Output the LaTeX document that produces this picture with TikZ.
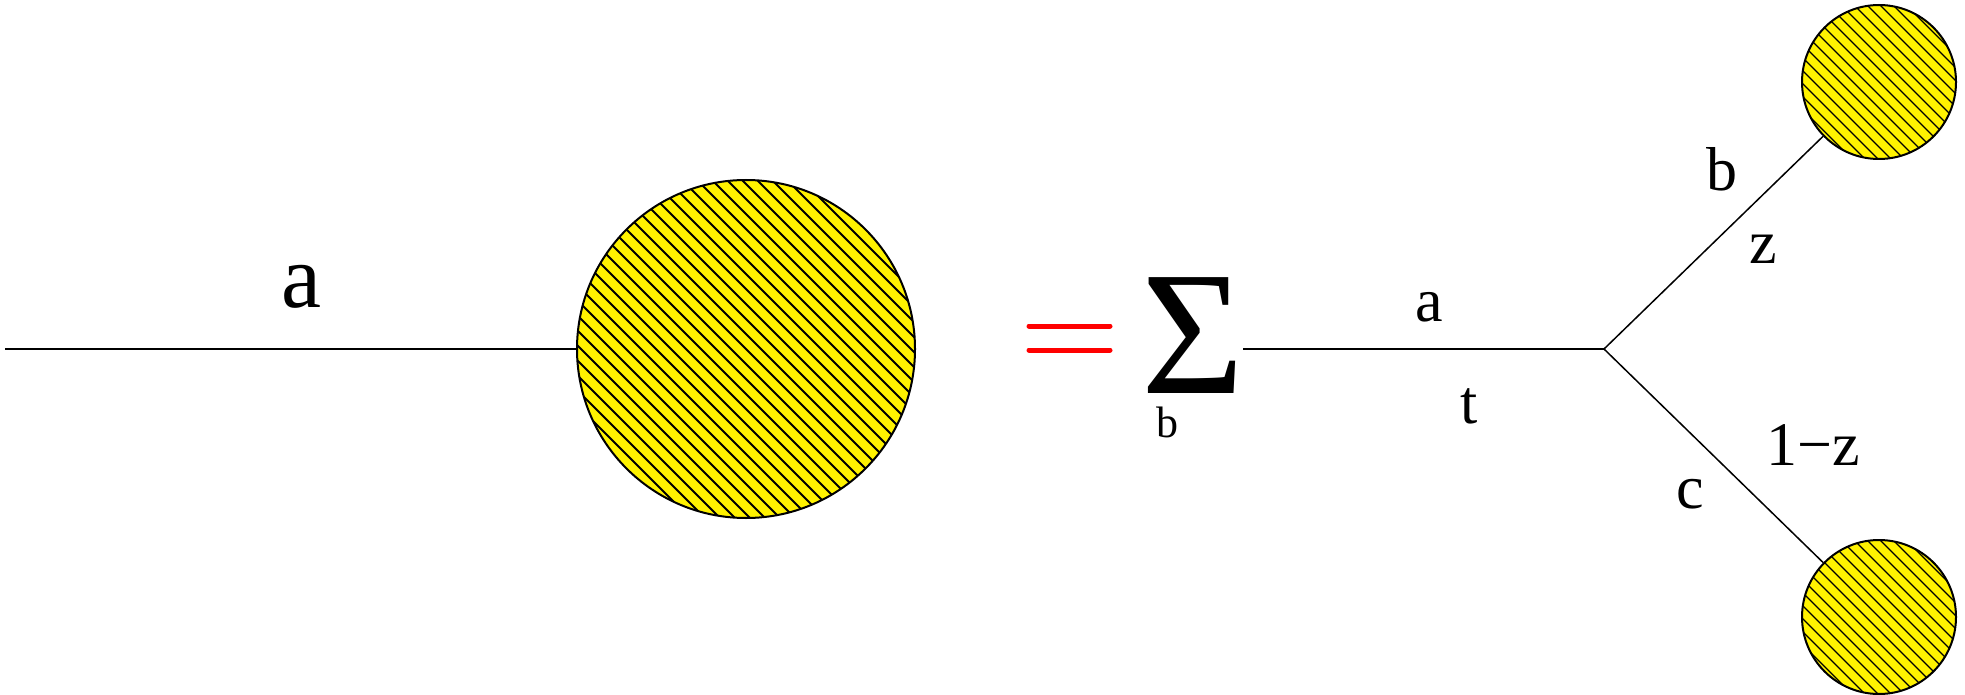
\documentclass[tikz,border=0pt]{standalone}
\usepackage{fontspec}
\setmainfont{Liberation Serif}
\usetikzlibrary{calc}
\begin{document}
\begin{tikzpicture}[x=1pt,y=-1pt,
  lbl/.style={anchor=base,inner sep=0pt,font=\fontsize{62}{70}\selectfont},
  edge/.style={draw=black,line width=1.5pt},
  blob/.style n args={3}{circle,inner sep=0pt,minimum size=#1,fill=yellow,draw=black,line width=2pt,
    path picture={\foreach \k in {-30,...,30}{\draw[black,line width=#3]
      ($(path picture bounding box.center)+(\k*#2-400,-400)$) -- ++(800,800);}}},
  eqline/.style={draw=red,line width=5pt,line cap=round}]
\useasboundingbox (0,0) rectangle (1965,695);
% left part
\coordinate (L) at (5,349);
\node[blob={338}{15}{1.8pt}] (C1) at (746,349) {};
\draw[edge] (L) -- (C1);
\node[lbl,font=\fontsize{90}{100}\selectfont] (la) at (301,307) {a};
% equals
\coordinate (E1a) at (1029,326); \coordinate (E1b) at (1110,326);
\coordinate (E2a) at (1029,350); \coordinate (E2b) at (1110,350);
\draw[eqline] (E1a) -- (E1b);
\draw[eqline] (E2a) -- (E2b);
% sum
\node[anchor=base,inner sep=0pt,text depth=0pt,text height=115pt,font=\fontsize{177}{190}\selectfont] (S) at (1193,393) {Σ};
\node[lbl,font=\fontsize{44}{50}\selectfont] (sb) at (1167,437) {b};
% tree
\coordinate (H) at (1243,349);
\coordinate (V) at (1604,349);
\draw[edge] (H) -- (V);
\node[blob={154}{13}{1.3pt}] (C2) at (1879,82) {};
\node[blob={154}{13}{1.3pt}] (C3) at (1879,617) {};
\draw[edge] (V) -- (C2);
\draw[edge] (V) -- (C3);
\node[lbl] (ma) at (1429,321) {a};
\node[lbl] (mt) at (1469,423) {t};
\node[lbl] (ub) at (1722,191) {b};
\node[lbl] (uz) at (1763,263) {z};
\node[lbl] (lz) at (1813,465) {1−z};
\node[lbl] (lc) at (1690,508) {c};
\end{tikzpicture}
\end{document}
